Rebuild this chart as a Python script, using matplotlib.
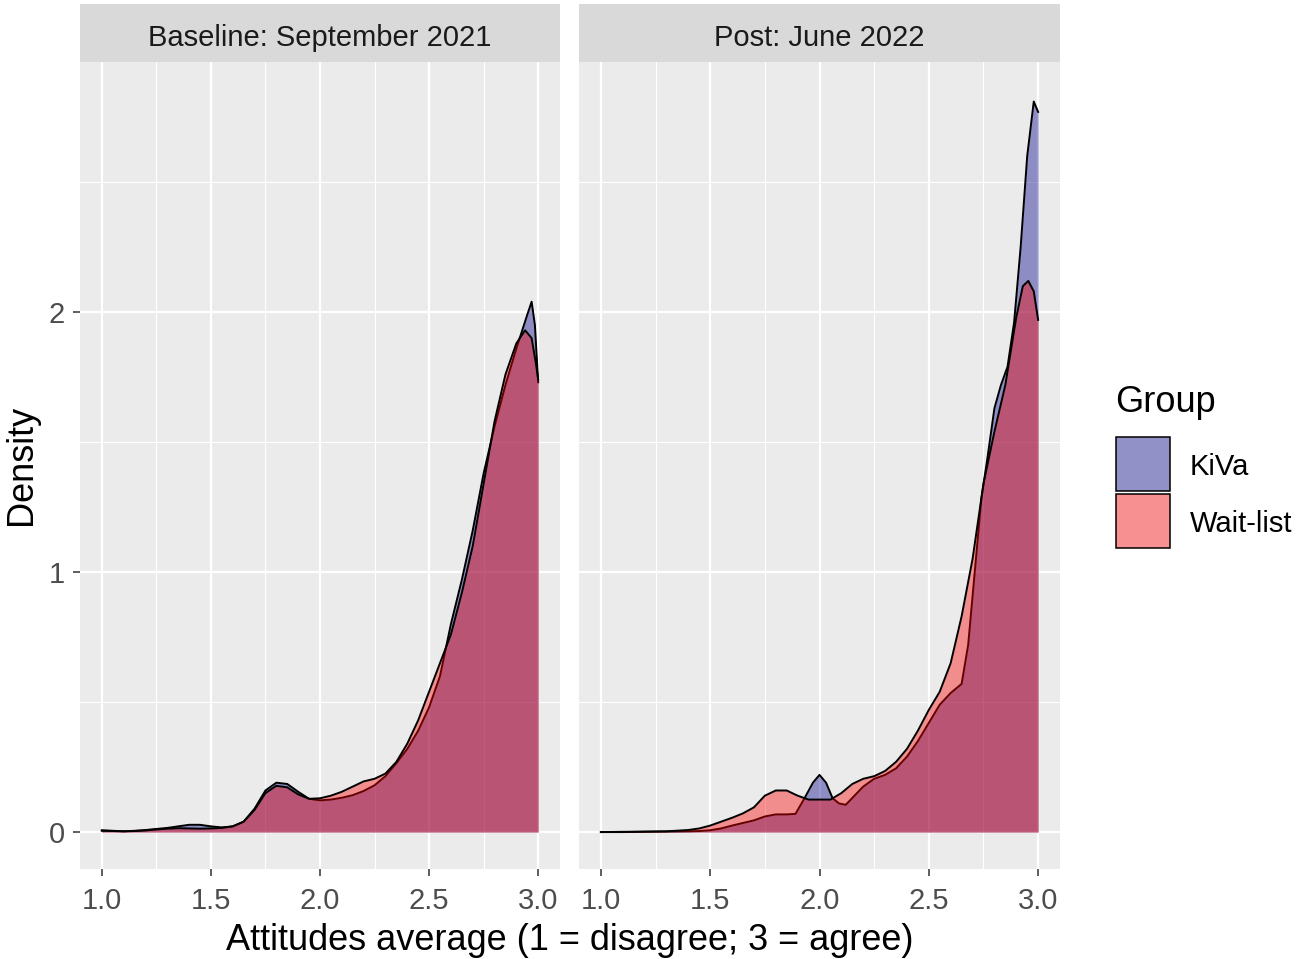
import numpy as np
import matplotlib
matplotlib.use("Agg")
import matplotlib.pyplot as plt
from matplotlib.patches import Rectangle

plt.rcParams["font.family"] = ["Liberation Sans", "DejaVu Sans"]

# ---- data (density curves) ----
PANELS = ["Baseline: September 2021", "Post: June 2022"]
GROUPS = ["KiVa", "Wait-list"]

base_kiva_x = [1.00, 1.05, 1.10, 1.15, 1.20, 1.25, 1.30, 1.35, 1.40, 1.45, 1.50,
               1.55, 1.60, 1.65, 1.70, 1.75, 1.80, 1.85, 1.90, 1.95, 2.00, 2.05,
               2.10, 2.15, 2.20, 2.25, 2.30, 2.35, 2.40, 2.45, 2.50, 2.55, 2.60,
               2.65, 2.70, 2.75, 2.80, 2.85, 2.90, 2.95, 2.97, 2.985, 3.00]
base_kiva_y = [0.007, 0.005, 0.003, 0.005, 0.008, 0.012, 0.016, 0.022, 0.028, 0.028, 0.022,
               0.018, 0.022, 0.040, 0.090, 0.160, 0.190, 0.185, 0.155, 0.128, 0.122, 0.125,
               0.132, 0.142, 0.158, 0.180, 0.215, 0.265, 0.320, 0.390, 0.480, 0.600, 0.800,
               0.970, 1.160, 1.380, 1.560, 1.720, 1.860, 1.990, 2.040, 1.950, 1.730]

base_wait_x = [1.00, 1.05, 1.10, 1.15, 1.20, 1.25, 1.30, 1.35, 1.40, 1.45, 1.50,
               1.55, 1.60, 1.65, 1.70, 1.75, 1.80, 1.85, 1.90, 1.95, 2.00, 2.05,
               2.10, 2.15, 2.20, 2.25, 2.30, 2.35, 2.40, 2.45, 2.50, 2.55, 2.60,
               2.65, 2.70, 2.75, 2.80, 2.85, 2.90, 2.94, 2.97, 2.99, 3.00]
base_wait_y = [0.005, 0.004, 0.003, 0.004, 0.006, 0.010, 0.013, 0.015, 0.014, 0.013, 0.014,
               0.016, 0.022, 0.040, 0.085, 0.150, 0.178, 0.172, 0.145, 0.128, 0.130, 0.140,
               0.155, 0.175, 0.195, 0.205, 0.225, 0.270, 0.340, 0.430, 0.540, 0.650, 0.760,
               0.920, 1.100, 1.340, 1.580, 1.760, 1.880, 1.930, 1.900, 1.800, 1.740]

post_kiva_x = [1.00, 1.10, 1.20, 1.30, 1.40, 1.45, 1.50, 1.55, 1.60, 1.65, 1.70,
               1.75, 1.80, 1.85, 1.89, 1.93, 1.97, 2.00, 2.03, 2.06, 2.09, 2.12,
               2.16, 2.20, 2.25, 2.30, 2.35, 2.40, 2.45, 2.50, 2.55, 2.60, 2.65,
               2.68, 2.71, 2.74, 2.77, 2.80, 2.83, 2.86, 2.89, 2.92, 2.95, 2.98, 3.00]
post_kiva_y = [0.000, 0.000, 0.001, 0.002, 0.003, 0.004, 0.007, 0.014, 0.025, 0.035, 0.045,
               0.060, 0.068, 0.068, 0.070, 0.128, 0.190, 0.220, 0.190, 0.130, 0.110, 0.105,
               0.140, 0.175, 0.205, 0.220, 0.245, 0.290, 0.350, 0.420, 0.490, 0.535, 0.570,
               0.720, 1.000, 1.280, 1.450, 1.630, 1.720, 1.790, 1.960, 2.250, 2.600, 2.810, 2.770]

post_wait_x = [1.00, 1.20, 1.30, 1.40, 1.45, 1.50, 1.55, 1.60, 1.65, 1.70, 1.75,
               1.80, 1.85, 1.90, 1.95, 2.00, 2.05, 2.10, 2.15, 2.20, 2.25, 2.30,
               2.35, 2.40, 2.45, 2.50, 2.55, 2.60, 2.65, 2.70, 2.75, 2.80, 2.85,
               2.90, 2.93, 2.955, 2.98, 3.00]
post_wait_y = [0.000, 0.002, 0.003, 0.008, 0.014, 0.025, 0.040, 0.055, 0.072, 0.095, 0.140,
               0.160, 0.160, 0.140, 0.125, 0.125, 0.125, 0.150, 0.185, 0.205, 0.215, 0.235,
               0.270, 0.320, 0.390, 0.470, 0.540, 0.650, 0.830, 1.050, 1.340, 1.540, 1.720,
               1.980, 2.100, 2.120, 2.080, 1.970]

DATA = [
    [(base_kiva_x, base_kiva_y), (base_wait_x, base_wait_y)],
    [(post_kiva_x, post_kiva_y), (post_wait_x, post_wait_y)],
]
FILLS = ["#00008B", "#FF0000"]
ALPHA = 0.4

W, H = 1307, 959
fig = plt.figure(figsize=(W / 100, H / 100), dpi=100)

panel_px = [(80, 560), (579, 1060)]
TOP, BOT = 62, 869

for i, (l, r) in enumerate(panel_px):
    ax = fig.add_axes([l / W, 1 - BOT / H, (r - l) / W, (BOT - TOP) / H])
    ax.set_facecolor("#EBEBEB")
    for g, (xs, ys) in enumerate(DATA[i]):
        ax.fill_between(xs, 0, ys, color=FILLS[g], alpha=ALPHA, lw=0, zorder=2)
        ax.plot(xs, ys, color="black", lw=1.4, zorder=2)
    ax.set_xlim(0.9, 3.1)
    ax.set_ylim(-0.142, 2.962)
    ax.set_xticks([1.0, 1.5, 2.0, 2.5, 3.0])
    ax.set_xticklabels(["1.0", "1.5", "2.0", "2.5", "3.0"])
    ax.set_xticks([1.25, 1.75, 2.25, 2.75], minor=True)
    ax.set_yticks([0, 1, 2])
    ax.set_yticks([0.5, 1.5, 2.5], minor=True)
    ax.grid(which="major", color="white", lw=1.6)
    ax.grid(which="minor", color="white", lw=0.8)
    ax.set_axisbelow(True)
    for s in ax.spines.values():
        s.set_visible(False)
    ax.tick_params(which="major", length=5, width=1.1, color="#333333",
                   labelcolor="#4D4D4D", labelsize=21)
    ax.tick_params(axis="x", which="major", pad=8)
    ax.tick_params(axis="y", which="major", pad=6)
    ax.tick_params(which="minor", length=0)
    if i > 0:
        ax.tick_params(axis="y", which="both", left=False, labelleft=False)

    sax = fig.add_axes([l / W, 1 - TOP / H, (r - l) / W, 58 / H])
    sax.set_facecolor("#D9D9D9")
    sax.set_xticks([])
    sax.set_yticks([])
    for s in sax.spines.values():
        s.set_visible(False)
    sax.text(0.5, 0.41, PANELS[i], ha="center", va="center", fontsize=21,
             color="#1A1A1A", transform=sax.transAxes)

fig.text((80 + 1060) / 2 / W, 1 - 940 / H, "Attitudes average (1 = disagree; 3 = agree)",
         ha="center", va="center", fontsize=26)
fig.text(22 / W, 1 - 465 / H, "Density", rotation=90, ha="center", va="center", fontsize=26)

# legend drawn by hand
fig.text(1115 / W, 1 - 403 / H, "Group", ha="left", va="center", fontsize=26)
key_top = [437, 494]
for g, name in enumerate(GROUPS):
    y0 = 1 - (key_top[g] + 54) / H
    fig.add_artist(Rectangle((1116 / W, y0), 54 / W, 54 / H, transform=fig.transFigure,
                             facecolor="#F2F2F2", edgecolor="none"))
    fig.add_artist(Rectangle((1116 / W, y0), 54 / W, 54 / H, transform=fig.transFigure,
                             facecolor=FILLS[g], alpha=ALPHA, edgecolor="none"))
    fig.add_artist(Rectangle((1116 / W, y0), 54 / W, 54 / H, transform=fig.transFigure,
                             facecolor="none", edgecolor="black", lw=1.1))
    fig.text(1190 / W, 1 - (key_top[g] + 30) / H, name, ha="left", va="center", fontsize=21)

fig.savefig("out.png", dpi=100)
